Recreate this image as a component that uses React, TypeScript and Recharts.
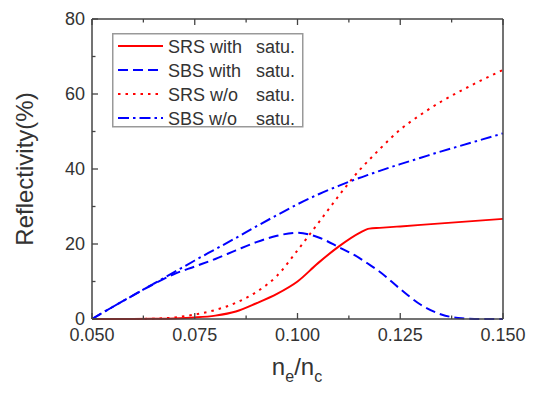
import { LineChart, Line, XAxis, YAxis, Legend } from 'recharts';

const X_VALUES = [0.05, 0.055, 0.06, 0.065, 0.07, 0.075, 0.08, 0.085, 0.09, 0.095, 0.1, 0.105, 0.11, 0.115, 0.1175, 0.12, 0.125, 0.13, 0.135, 0.14, 0.145, 0.15];
const SRS_WITH = [0, 0, 0, 0.05, 0.15, 0.4, 0.9, 2.0, 4.2, 6.7, 10.0, 14.9, 19.3, 22.9, 24.1, 24.3, 24.7, 25.1, 25.5, 25.9, 26.3, 26.7];
const SBS_WITH = [0, 3.2, 6.3, 9.3, 12.0, 14.0, 16.0, 18.3, 20.5, 22.2, 23.0, 21.8, 19.2, 16.3, 14.5, 12.6, 8.0, 3.8, 1.2, 0.2, 0, 0];
const SRS_WO = [0, 0, 0, 0.1, 0.4, 1.2, 2.4, 4.3, 7.2, 11.5, 18.3, 25.5, 32.8, 39.6, 42.5, 45.3, 50.5, 54.5, 58.0, 61.0, 63.8, 66.4];
const SBS_WO = [0, 3.2, 6.3, 9.4, 12.5, 15.6, 18.6, 21.6, 24.7, 27.7, 30.6, 33.2, 35.5, 37.6, 38.55, 39.5, 41.3, 43.0, 44.7, 46.3, 47.9, 49.5];

const X_TICKS = [0.05, 0.0625, 0.075, 0.0875, 0.1, 0.1125, 0.125, 0.1375, 0.15];
const X_LABELS = ['0.050', '', '0.075', '', '0.100', '', '0.125', '', '0.150'];
const Y_TICKS = [0, 10, 20, 30, 40, 50, 60, 70, 80];
const Y_LABELS = ['0', '', '20', '', '40', '', '60', '', '80'];

const SERIES = [
  { key: 'srsWith', name: 'SRS with', color: '#ff0000', dash: undefined },
  { key: 'sbsWith', name: 'SBS with', color: '#0000ff', dash: '10 5' },
  { key: 'srsWo', name: 'SRS w/o', color: '#ff0000', dash: '2.5 5' },
  { key: 'sbsWo', name: 'SBS w/o', color: '#0000ff', dash: '11 4 2.5 4' },
];

const data = X_VALUES.map((x, i) => ({
  x,
  srsWith: SRS_WITH[i],
  sbsWith: SBS_WITH[i],
  srsWo: SRS_WO[i],
  sbsWo: SBS_WO[i],
}));

const FONT = '"Liberation Sans", Arial, sans-serif';
const AXIS = '#444';
const TEXT = '#333';

const BottomTick = (props: any) => {
  const { x, y, index } = props;
  const label = X_LABELS[index];
  return (
    <g>
      <line x1={x} x2={x} y1={y} y2={y - (label ? 6 : 3.5)} stroke={AXIS} strokeWidth={1.3} />
      {label && (
        <text x={x} y={y + 22} textAnchor="middle" fontSize={18} fill={TEXT} fontFamily={FONT}>
          {label}
        </text>
      )}
    </g>
  );
};

const TopTick = (props: any) => {
  const { x, y, index } = props;
  return <line x1={x} x2={x} y1={y} y2={y + (X_LABELS[index] ? 6 : 3.5)} stroke={AXIS} strokeWidth={1.3} />;
};

const LeftTick = (props: any) => {
  const { x, y, index } = props;
  const label = Y_LABELS[index];
  return (
    <g>
      <line x1={x} x2={x + (label ? 6 : 3.5)} y1={y} y2={y} stroke={AXIS} strokeWidth={1.3} />
      {label && (
        <text x={x - 7} y={y + 6} textAnchor="end" fontSize={18} fill={TEXT} fontFamily={FONT}>
          {label}
        </text>
      )}
    </g>
  );
};

const RightTick = (props: any) => {
  const { x, y, index } = props;
  return <line x1={x} x2={x - (Y_LABELS[index] ? 6 : 3.5)} y1={y} y2={y} stroke={AXIS} strokeWidth={1.3} />;
};

const LegendBox = () => (
  <svg width={192} height={95} style={{ display: 'block' }}>
    <rect x={0.75} y={0.75} width={190} height={93} fill="#fff" stroke="#999" strokeWidth={1.5} />
    {SERIES.map((s, i) => {
      const cy = 13 + i * 24;
      return (
        <g key={s.key}>
          <line x1={6} x2={51} y1={cy} y2={cy} stroke={s.color} strokeWidth={2} strokeDasharray={s.dash} />
          <text x={56} y={cy + 6.5} fontSize={18} fill={TEXT} fontFamily={FONT}>{s.name}</text>
          <text x={144} y={cy + 6.5} fontSize={18} fill={TEXT} fontFamily={FONT}>satu.</text>
        </g>
      );
    })}
  </svg>
);

const YTitle = () => (
  <text x={25} y={169} transform="rotate(-90, 25, 169)" dy={8} textAnchor="middle" fontSize={24} fill={TEXT} fontFamily={FONT}>
    Reflectivity(%)
  </text>
);

const XTitle = () => (
  <text x={297} y={375} textAnchor="middle" fontSize={24} fill={TEXT} fontFamily={FONT}>
    n<tspan fontSize={16} dy={7}>e</tspan><tspan dy={-7}>/n</tspan><tspan fontSize={16} dy={7}>c</tspan>
  </text>
);

export default function App() {
  return (
    <div style={{ position: 'absolute', left: 0, top: 0, width: 538, height: 393, background: '#fff' }}>
      <LineChart width={538} height={393} data={data} margin={{ top: 18, right: 34, bottom: 0, left: 0 }}>
        <XAxis
          dataKey="x"
          type="number"
          domain={[0.05, 0.15]}
          ticks={X_TICKS}
          height={74}
          tickSize={0}
          tickMargin={0}
          tickLine={false}
          tick={<BottomTick />}
          interval={0}
          axisLine={{ stroke: AXIS, strokeWidth: 1.5 }}
          label={<XTitle />}
        />
        <XAxis
          xAxisId="top"
          orientation="top"
          dataKey="x"
          type="number"
          domain={[0.05, 0.15]}
          ticks={X_TICKS}
          height={1}
          tickSize={0}
          tickMargin={0}
          tickLine={false}
          tick={<TopTick />}
          interval={0}
          axisLine={{ stroke: AXIS, strokeWidth: 1.5 }}
        />
        <YAxis
          type="number"
          domain={[0, 80]}
          ticks={Y_TICKS}
          width={92}
          tickSize={0}
          tickMargin={0}
          tickLine={false}
          tick={<LeftTick />}
          interval={0}
          axisLine={{ stroke: AXIS, strokeWidth: 1.5 }}
          label={<YTitle />}
        />
        <YAxis
          yAxisId="right"
          orientation="right"
          type="number"
          domain={[0, 80]}
          ticks={Y_TICKS}
          width={1}
          tickSize={0}
          tickMargin={0}
          tickLine={false}
          tick={<RightTick />}
          interval={0}
          axisLine={{ stroke: AXIS, strokeWidth: 1.5 }}
        />
        {SERIES.map((s) => (
          <Line
            key={s.key}
            type="monotone"
            dataKey={s.key}
            name={s.name}
            stroke={s.color}
            strokeWidth={2}
            strokeDasharray={s.dash}
            dot={false}
            activeDot={false}
            isAnimationActive={false}
          />
        ))}
        <Legend
          layout="vertical"
          align="center"
          verticalAlign="middle"
          content={<LegendBox />}
          wrapperStyle={{ position: 'absolute', left: 112, top: 33, width: 192, height: 95 }}
        />
      </LineChart>
    </div>
  );
}
